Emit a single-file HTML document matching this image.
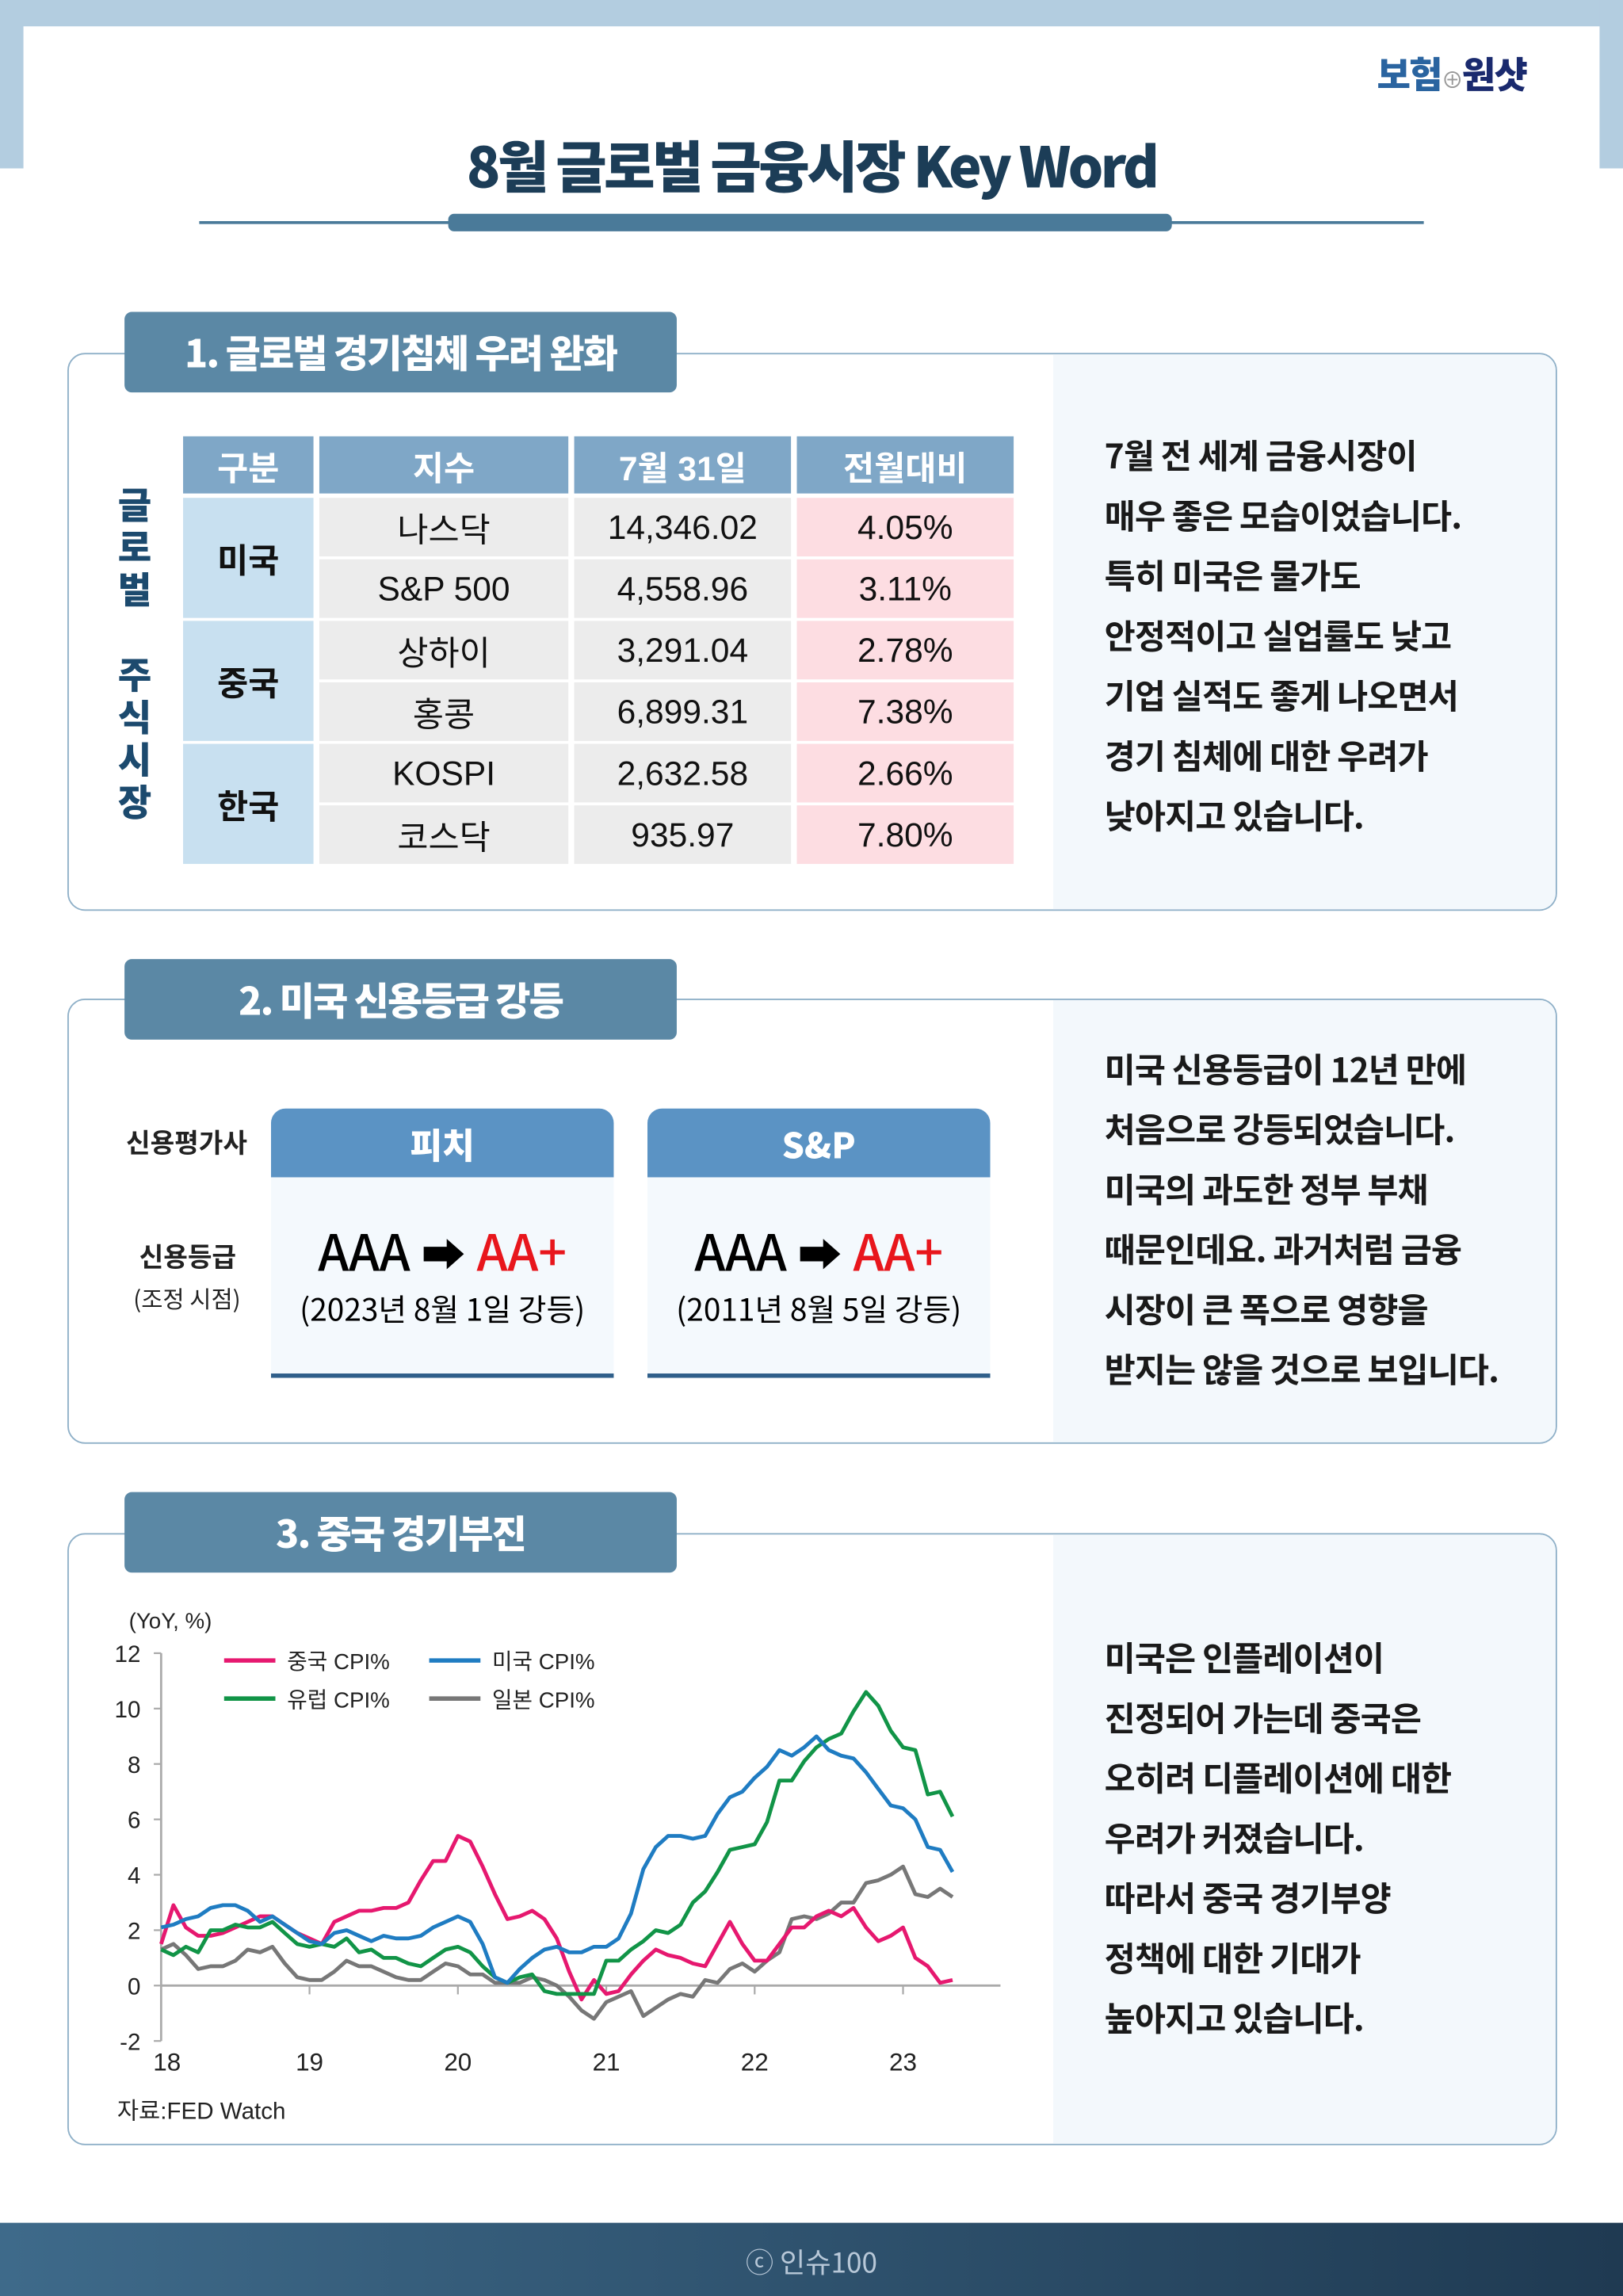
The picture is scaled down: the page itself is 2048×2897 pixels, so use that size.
<!DOCTYPE html>
<html><head><meta charset="utf-8">
<style>
html,body{margin:0;padding:0;}
body{width:2048px;height:2897px;overflow:hidden;background:#fff;font-family:"Liberation Sans","Noto Sans CJK KR",sans-serif;}
#w{position:absolute;left:0;top:0;width:1108px;height:1568px;transform:scale(1.84838,1.84758);transform-origin:0 0;}
.a{position:absolute;}
.k{font-family:"Noto Sans CJK KR","Liberation Sans",sans-serif;}
.box{position:absolute;left:46px;width:1015px;border:1.5px solid #8fb0c8;border-radius:12px;background:#fff;overflow:hidden;}
.rp{position:absolute;right:0;top:0;bottom:0;width:343px;background:#f3f8fc;}
.tab{position:absolute;left:85px;width:377px;height:55px;background:#5b88a5;border-radius:5px;color:#fff;font-weight:900;font-size:26px;line-height:55px;text-align:center;letter-spacing:-1px;}
.rt{position:absolute;left:754px;font-size:23px;font-weight:700;color:#1a1a1a;line-height:41px;letter-spacing:-0.5px;}
.c{position:absolute;display:flex;align-items:center;justify-content:center;font-size:23px;color:#111;}
.h{background:#7fa7c7;color:#fff;font-weight:700;}
.g{background:#ececec;}
.p{background:#fddde2;}
.b{background:#c8e0f0;font-weight:700;}
.card{position:absolute;top:757px;width:234px;height:181px;background:#f4f9fd;border-bottom:3px solid #2f5f8a;border-radius:10px 10px 0 0;overflow:hidden;}
.ch{height:47px;background:#5b93c4;color:#fff;font-weight:900;font-size:24px;text-align:center;line-height:47px;}
.cr{text-align:center;font-size:34px;font-weight:500;margin-top:30px;line-height:40px;}
.cs{text-align:center;font-size:21px;margin-top:4px;}
</style></head><body>
<div id="w">
<div class="a" style="left:0;top:0;width:1108px;height:18px;background:#b3cde0"></div>
<div class="a" style="left:0;top:0;width:16px;height:115px;background:#b3cde0"></div>
<div class="a" style="left:1092px;top:0;width:16px;height:115px;background:#b3cde0"></div>
<div class="a k" style="left:940px;top:32px;font-size:25px;font-weight:900;letter-spacing:-1px"><span style="color:#2a64a0">보험</span><span style="color:#999;font-size:15px;font-weight:400">⊕</span><span style="color:#1a2a6e">원샷</span></div>
<div class="a k" style="left:0;width:1108px;top:84px;text-align:center;font-size:38px;font-weight:900;color:#1c3d57;letter-spacing:-2px">8월 글로벌 금융시장 Key Word</div>
<div class="a" style="left:136px;top:151px;width:836px;height:2px;background:#4a7a99"></div>
<div class="a" style="left:306px;top:146px;width:494px;height:12px;background:#4a7a99;border-radius:4px"></div>

<!-- Section 1 -->
<div class="box" style="top:241px;height:379px"><div class="rp"></div></div>
<div class="tab k" style="top:213px">1. 글로벌 경기침체 우려 완화</div>
<div class="a k" style="left:78px;top:330px;width:28px;font-size:25px;font-weight:900;color:#1c4a6e;line-height:29px;text-align:center">글<br>로<br>벌<br><br>주<br>식<br>시<br>장</div>
<div class="c h" style="left:125px;top:298px;width:89px;height:39px">구분</div>
<div class="c h" style="left:218px;top:298px;width:170px;height:39px">지수</div>
<div class="c h" style="left:392px;top:298px;width:148px;height:39px">7월 31일</div>
<div class="c h" style="left:544px;top:298px;width:148px;height:39px">전월대비</div>
<div class="c b" style="left:125px;top:340px;width:89px;height:82px">미국</div>
<div class="c b" style="left:125px;top:424px;width:89px;height:82px">중국</div>
<div class="c b" style="left:125px;top:508px;width:89px;height:82px">한국</div>
<div id="rows"></div>
<div class="rt k" style="top:290px">7월 전 세계 금융시장이<br>매우 좋은 모습이었습니다.<br>특히 미국은 물가도<br>안정적이고 실업률도 낮고<br>기업 실적도 좋게 나오면서<br>경기 침체에 대한 우려가<br>낮아지고 있습니다.</div>

<!-- Section 2 -->
<div class="box" style="top:682px;height:302px"><div class="rp"></div></div>
<div class="tab k" style="top:655px">2. 미국 신용등급 강등</div>
<div class="a k" style="left:86px;top:767px;font-size:18px;font-weight:700;color:#222">신용평가사</div>
<div class="a k" style="left:95px;top:845px;font-size:18px;font-weight:700;color:#222">신용등급</div>
<div class="a k" style="left:91px;top:874px;font-size:16px;color:#222">(조정 시점)</div>
<div class="card k" style="left:185px"><div class="ch">피치</div><div class="cr">AAA <span style="font-size:30px">➡</span> <span style="color:#e8161c">AA+</span></div><div class="cs">(2023년 8월 1일 강등)</div></div>
<div class="card k" style="left:442px"><div class="ch">S&amp;P</div><div class="cr">AAA <span style="font-size:30px">➡</span> <span style="color:#e8161c">AA+</span></div><div class="cs">(2011년 8월 5일 강등)</div></div>
<div class="rt k" style="top:709px">미국 신용등급이 12년 만에<br>처음으로 강등되었습니다.<br>미국의 과도한 정부 부채<br>때문인데요. 과거처럼 금융<br>시장이 큰 폭으로 영향을<br>받지는 않을 것으로 보입니다.</div>

<!-- Section 3 -->
<div class="box" style="top:1047px;height:416px"><div class="rp"></div></div>
<div class="tab k" style="top:1019px">3. 중국 경기부진</div>
<svg class="a" style="left:0;top:0" width="1108" height="1568" id="chart"></svg>
<div class="rt k" style="top:1111px">미국은 인플레이션이<br>진정되어 가는데 중국은<br>오히려 디플레이션에 대한<br>우려가 커졌습니다.<br>따라서 중국 경기부양<br>정책에 대한 기대가<br>높아지고 있습니다.</div>

<div class="a" style="left:0;top:1518px;width:1108px;height:50px;background:linear-gradient(90deg,#3e6a8a,#1f3a52)"></div>
<div class="a k" style="left:0;width:1108px;top:1531px;text-align:center;color:#b8c8d8;font-size:19px">ⓒ 인슈100</div>
</div>
<script>
const idxNames=["나스닥","S&P 500","상하이","홍콩","KOSPI","코스닥"];
const idxValues=["14,346.02","4,558.96","3,291.04","6,899.31","2,632.58","935.97"];
const idxChanges=["4.05%","3.11%","2.78%","7.38%","2.66%","7.80%"];
const rows=document.getElementById('rows');
idxNames.forEach((n,i)=>{
  const t=340+i*42;
  [[218,170,'g',n,'index-name'],[392,148,'g',idxValues[i],'index-value'],[544,148,'p',idxChanges[i],'index-change']].forEach(c=>{
    const d=document.createElement('div');
    d.className='c '+c[2];
    d.style.cssText=`left:${c[0]}px;top:${t}px;width:${c[1]}px;height:40px`;
    d.textContent=c[3];
    
    
    rows.appendChild(d);
  });
});

const china=[1.5,2.9,2.1,1.8,1.8,1.9,2.1,2.3,2.5,2.5,2.2,1.9, 1.7,1.5,2.3,2.5,2.7,2.7,2.8,2.8,3.0,3.8,4.5,4.5, 5.4,5.2,4.3,3.3,2.4,2.5,2.7,2.4,1.7,0.5,-0.5,0.2, -0.3,-0.2,0.4,0.9,1.3,1.1,1.0,0.8,0.7,1.5,2.3,1.5, 0.9,0.9,1.5,2.1,2.1,2.5,2.7,2.5,2.8,2.1,1.6,1.8, 2.1,1.0,0.7,0.1,0.2];
const usa=[2.1,2.2,2.4,2.5,2.8,2.9,2.9,2.7,2.3,2.5,2.2,1.9, 1.6,1.5,1.9,2.0,1.8,1.6,1.8,1.7,1.7,1.8,2.1,2.3, 2.5,2.3,1.5,0.3,0.1,0.6,1.0,1.3,1.4,1.2,1.2,1.4, 1.4,1.7,2.6,4.2,5.0,5.4,5.4,5.3,5.4,6.2,6.8,7.0, 7.5,7.9,8.5,8.3,8.6,9.0,8.5,8.3,8.2,7.7,7.1,6.5, 6.4,6.0,5.0,4.9,4.1];
const euro=[1.3,1.1,1.4,1.2,2.0,2.0,2.2,2.1,2.1,2.3,1.9,1.5, 1.4,1.5,1.4,1.7,1.2,1.3,1.0,1.0,0.8,0.7,1.0,1.3, 1.4,1.2,0.7,0.3,0.1,0.3,0.4,-0.2,-0.3,-0.3,-0.3,-0.3, 0.9,0.9,1.3,1.6,2.0,1.9,2.2,3.0,3.4,4.1,4.9,5.0, 5.1,5.9,7.4,7.4,8.1,8.6,8.9,9.1,9.9,10.6,10.1,9.2, 8.6,8.5,6.9,7.0,6.1];
const japan=[1.3,1.5,1.1,0.6,0.7,0.7,0.9,1.3,1.2,1.4,0.8,0.3, 0.2,0.2,0.5,0.9,0.7,0.7,0.5,0.3,0.2,0.2,0.5,0.8, 0.7,0.4,0.4,0.1,0.1,0.1,0.3,0.2,0.0,-0.4,-0.9,-1.2, -0.6,-0.4,-0.2,-1.1,-0.8,-0.5,-0.3,-0.4,0.2,0.1,0.6,0.8, 0.5,0.9,1.2,2.4,2.5,2.4,2.6,3.0,3.0,3.7,3.8,4.0, 4.3,3.3,3.2,3.5,3.2];
const yTicks=[12,10,8,6,4,2,0,-2];
const xYears=["18","19","20","21","22","23"];

const NS='http://www.w3.org/2000/svg';
const svg=document.getElementById('chart');
const X0=110, YEARW=101.3;
const xs=m=>X0+m/12*YEARW;
const ys=v=>1356-v*(1356-1129)/12;
function mk(tag,attrs,txt){const e=document.createElementNS(NS,tag);for(const k in attrs)e.setAttribute(k,attrs[k]);if(txt!==undefined)e.textContent=txt;svg.appendChild(e);return e;}
let e;
e=mk('line',{x1:X0,y1:ys(12),x2:X0,y2:ys(-2),stroke:'#aaa','stroke-width':1.5});


e=mk('line',{x1:X0,y1:ys(0),x2:683,y2:ys(0),stroke:'#aaa','stroke-width':1.5});


yTicks.forEach(t=>{
  mk('line',{x1:X0-5,y1:ys(t),x2:X0,y2:ys(t),stroke:'#aaa','stroke-width':1.2});
  e=mk('text',{x:96,y:ys(t)+6,'text-anchor':'end','font-size':16,fill:'#222','font-family':'Liberation Sans'},String(t));
  
  
});
xYears.forEach((l,i)=>{
  const x=xs(i*12);
  if(i>0)mk('line',{x1:x,y1:ys(0),x2:x,y2:ys(0)+6,stroke:'#aaa','stroke-width':1.2});
  e=mk('text',{x:i===0?x+4:x,y:1414,'text-anchor':'middle','font-size':17,fill:'#222','font-family':'Liberation Sans'},l);
  
  
});
e=mk('text',{x:88,y:1112,'font-size':15,fill:'#222','font-family':'Liberation Sans'},'(YoY, %)');


e=mk('text',{x:80,y:1447,'font-size':16,fill:'#222','font-family':'Liberation Sans, Noto Sans CJK KR'},'자료:FED Watch');


const series=[[japan,'#777777','japan-cpi-line'],[china,'#e6186f','china-cpi-line'],[euro,'#119447','euro-cpi-line'],[usa,'#1f7cc2','us-cpi-line']];
series.forEach(s=>{
  const d=s[0].map((v,i)=>(i?'L':'M')+xs(i).toFixed(1)+','+ys(v).toFixed(1)).join('');
  e=mk('path',{d:d,fill:'none',stroke:s[1],'stroke-width':2.6,'stroke-linejoin':'round'});
  
  
});
const legend=[['중국 CPI%','#e6186f',153,1134],['미국 CPI%','#1f7cc2',293,1134],['유럽 CPI%','#119447',153,1160],['일본 CPI%','#777777',293,1160]];
legend.forEach(l=>{
  mk('line',{x1:l[2],y1:l[3],x2:l[2]+35,y2:l[3],stroke:l[1],'stroke-width':3});
  e=mk('text',{x:l[2]+43,y:l[3]+6,'font-size':15,fill:'#222','font-family':'Liberation Sans, Noto Sans CJK KR'},l[0]);
  
  
});
</script>
</body></html>
